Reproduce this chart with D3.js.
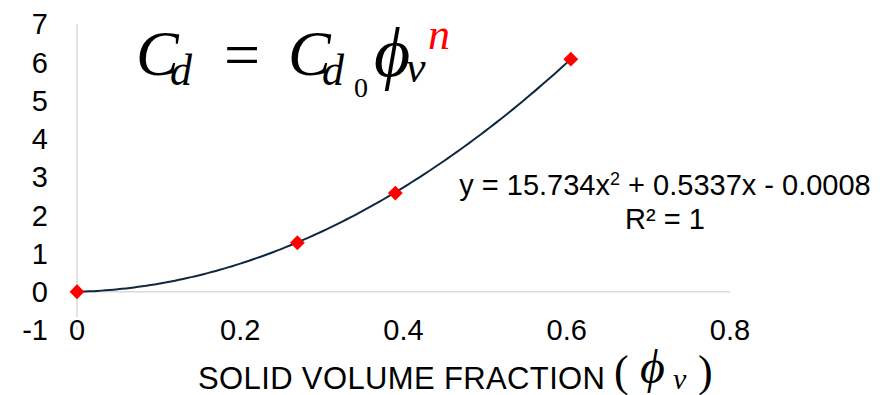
<!DOCTYPE html>
<html lang="en">
<head>
    <meta charset="UTF-8">
    <title>Drag coefficient vs solid volume fraction</title>
    <script src="https://d3js.org/d3.v7.min.js"></script>
    <style>
        body {
            margin: 0;
            background: #fff;
        }

        svg {
            display: block;
        }
    </style>
</head>
<body>
    <div id="chart"></div>

    <script>
        // data
        const phi = [0, 0.27, 0.39, 0.605];
        const cd = [0, 1.28, 2.58, 6.08];
        const xTicks = [0, 0.2, 0.4, 0.6, 0.8];
        const yTicks = [-1, 0, 1, 2, 3, 4, 5, 6, 7];
        // polynomial trendline, as printed on the chart
        const coef = [15.734, 0.5337, -0.0008];

        const width = 887;
        const height = 395;
        const sans = "'Liberation Sans', Arial, sans-serif";
        const serif = "'Liberation Serif', 'Times New Roman', serif";

        const svg = d3.select("#chart").append("svg")
            .attr("width", width)
            .attr("height", height);

        const x = d3.scaleLinear().domain([0, 0.8]).range([77, 730]);
        const y = d3.scaleLinear().domain([-1, 7]).range([330, 24]);

        // axis lines (light grey, x axis crosses at 0)
        svg.append("line")
            .attr("x1", x(0)).attr("x2", x(0))
            .attr("y1", y(7)).attr("y2", y(-1))
            .attr("stroke", "#d9d9d9").attr("stroke-width", 1.5);

        svg.append("line")
            .attr("x1", x(0)).attr("x2", x(0.8))
            .attr("y1", y(0)).attr("y2", y(0))
            .attr("stroke", "#d9d9d9").attr("stroke-width", 1.5);

        // y tick labels
        svg.append("g")
            .selectAll("text")
            .data(yTicks)
            .enter().append("text")
            .attr("x", 48)
            .attr("y", d => y(d))
            .attr("dy", "0.36em")
            .attr("text-anchor", "end")
            .style("font-family", sans)
            .style("font-size", "29px")
            .text(d => d);

        // x tick labels, low position
        svg.append("g")
            .selectAll("text")
            .data(xTicks)
            .enter().append("text")
            .attr("x", d => x(d))
            .attr("y", y(-1))
            .attr("dy", "0.36em")
            .attr("text-anchor", "middle")
            .style("font-family", sans)
            .style("font-size", "29px")
            .attr("stroke", "#fff").attr("stroke-width", 6)
            .attr("paint-order", "stroke")
            .text(d => d);

        // trendline
        const fit = d3.range(0, phi[phi.length - 1] + 1e-9, 0.005)
            .map(v => [v, coef[0] * v * v + coef[1] * v + coef[2]]);

        svg.append("path")
            .datum(fit)
            .attr("fill", "none")
            .attr("stroke", "#0e2841")
            .attr("stroke-width", 2)
            .attr("d", d3.line().x(d => x(d[0])).y(d => y(d[1])));

        // markers
        svg.append("g")
            .selectAll("path")
            .data(phi)
            .enter().append("path")
            .attr("transform", (d, i) => `translate(${x(d)},${y(cd[i])}) rotate(45)`)
            .attr("d", d3.symbol().type(d3.symbolSquare).size(110))
            .attr("fill", "#ff0000");

        // trendline label
        const eq = svg.append("text")
            .attr("x", 665).attr("y", 195)
            .attr("text-anchor", "middle")
            .style("font-family", sans)
            .style("font-size", "29px");
        eq.append("tspan").text("y = 15.734x");
        eq.append("tspan").attr("dy", -10).style("font-size", "18px").text("2");
        eq.append("tspan").attr("dy", 10).text(" + 0.5337x - 0.0008");

        svg.append("text")
            .attr("x", 665).attr("y", 229)
            .attr("text-anchor", "middle")
            .style("font-family", sans)
            .style("font-size", "29px")
            .text("R² = 1");

        // x axis title
        svg.append("text")
            .attr("x", 198).attr("y", 389)
            .style("font-family", sans)
            .style("font-size", "31px")
            .attr("textLength", 407)
            .text("SOLID VOLUME FRACTION");

        const ttl = svg.append("text").attr("y", 386).style("font-family", serif).style("font-size", "44px");
        ttl.append("tspan").attr("x", 614).text("(");
        ttl.append("tspan").attr("x", 640).attr("y", 383).style("font-size", "48px").style("font-style", "italic").text("ϕ");
        ttl.append("tspan").attr("x", 673).attr("y", 389).style("font-size", "30px").style("font-style", "italic").text("v");
        ttl.append("tspan").attr("x", 698).attr("y", 386).text(")");

        // model equation  Cd = Cd0 ϕv^n
        const fm = svg.append("text").style("font-family", serif).style("font-style", "italic");
        fm.append("tspan").attr("x", 136).attr("y", 75).style("font-size", "64px").text("C");
        fm.append("tspan").attr("x", 170).attr("y", 85).style("font-size", "44px").text("d");
        fm.append("tspan").attr("x", 224).attr("y", 76).style("font-size", "64px").style("font-style", "normal").text("=");
        fm.append("tspan").attr("x", 288).attr("y", 75).style("font-size", "64px").text("C");
        fm.append("tspan").attr("x", 322).attr("y", 85).style("font-size", "44px").text("d");
        fm.append("tspan").attr("x", 354).attr("y", 97).style("font-size", "28px").style("font-style", "normal").text("0");
        fm.append("tspan").attr("x", 374).attr("y", 76).style("font-size", "70px").text("ϕ");
        fm.append("tspan").attr("x", 406).attr("y", 82).style("font-size", "44px").text("v");
        fm.append("tspan").attr("x", 428).attr("y", 49).style("font-size", "44px").attr("fill", "#ff0000").text("n");
    </script>
</body>
</html>
